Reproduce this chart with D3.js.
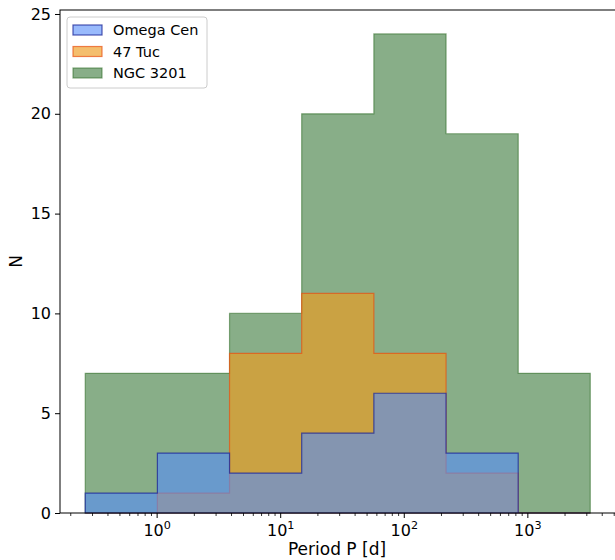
<!DOCTYPE html>
<html>
<head>
<meta charset="utf-8">
<script src="https://cdn.jsdelivr.net/npm/d3@7"></script>
<style>
  html, body { margin: 0; padding: 0; background: #fff; }
  svg { display: block; font-family: "DejaVu Sans", sans-serif; }
</style>
</head>
<body>
<svg id="chart" width="615" height="560"></svg>
<script>
// ---- data ----
const binEdges = [0.262, 1.005, 3.855, 14.79, 56.75, 217.8, 835.6, 3199];
const seriesNames = ["Omega Cen", "47 Tuc", "NGC 3201"];
const omegaCen = [1, 3, 2, 4, 6, 3, 0];
const tuc47 = [0, 1, 8, 11, 8, 2, 0];
const ngc3201 = [7, 7, 10, 20, 24, 19, 7];
const yTicks = [0, 5, 10, 15, 20, 25];
const xMajorTicks = [1, 10, 100, 1000];
const xLabel = "Period P [d]";
const yLabel = "N";

// ---- layout ----
const svg = d3.select("#chart");
const pLeft = 60, pRight = 615.5, pTop = 10, pBottom = 513;

const lmin = Math.log10(binEdges[0]), lmax = Math.log10(binEdges[binEdges.length - 1]);
const marg = (lmax - lmin) * 0.05;
const x = d3.scaleLog().domain([Math.pow(10, lmin - marg), Math.pow(10, lmax + marg)]).range([pLeft, pRight]);
const yMax = d3.max([...omegaCen, ...tuc47, ...ngc3201]) * 1.05;
const y = d3.scaleLinear().domain([0, yMax]).range([pBottom, pTop]);

const styles = {
  "Omega Cen": { fill: "rgb(85,140,250)", fillOp: 0.6, stroke: "#1f2a9a", strokeOp: 0.78 },
  "47 Tuc":    { fill: "rgb(238,155,30)", fillOp: 0.65, stroke: "#e85010", strokeOp: 0.7 },
  "NGC 3201":  { fill: "rgb(17,93,17)", fillOp: 0.5, stroke: "#2a6a20", strokeOp: 0.55 }
};
const dataByName = { "Omega Cen": omegaCen, "47 Tuc": tuc47, "NGC 3201": ngc3201 };

function stepPoints(vals) {
  const pts = [[binEdges[0], 0]];
  vals.forEach((v, i) => { pts.push([binEdges[i], v]); pts.push([binEdges[i + 1], v]); });
  pts.push([binEdges[binEdges.length - 1], 0]);
  return pts;
}
const line = d3.line().x(d => x(d[0])).y(d => y(d[1]));

const plot = svg.append("g");
// draw order: NGC 3201, 47 Tuc, Omega Cen
["NGC 3201", "47 Tuc", "Omega Cen"].forEach(name => {
  const s = styles[name];
  plot.append("path")
    .attr("d", line(stepPoints(dataByName[name])) + "Z")
    .attr("fill", s.fill).attr("fill-opacity", s.fillOp)
    .attr("stroke", s.stroke).attr("stroke-opacity", s.strokeOp)
    .attr("stroke-width", 1.2).attr("stroke-linejoin", "miter");
});

// ---- axes ----
const tickFont = 16;
const labelFont = 17;
const legendFont = 14.5;
const yAxis = d3.axisLeft(y).tickValues(yTicks).tickSize(5).tickPadding(4).tickFormat(d3.format("d"));
const gy = svg.append("g").attr("transform", `translate(${pLeft},0)`).call(yAxis);
gy.select(".domain").remove();
gy.selectAll("text").attr("font-size", tickFont).attr("font-family", "DejaVu Sans").attr("fill", "#000");
gy.selectAll("line").attr("stroke", "#000").attr("stroke-width", 1);

// x minor ticks
const minor = [];
for (let e = -1; e <= 3; e++) for (let m = 2; m <= 9; m++) {
  const v = m * Math.pow(10, e);
  if (v >= x.domain()[0] && v <= x.domain()[1]) minor.push(v);
}
const gx = svg.append("g").attr("transform", `translate(0,${pBottom})`);
gx.selectAll("line.minor").data(minor).enter().append("line")
  .attr("x1", d => x(d)).attr("x2", d => x(d)).attr("y1", 0).attr("y2", 3)
  .attr("stroke", "#000").attr("stroke-width", 0.8);
gx.selectAll("line.major").data(xMajorTicks).enter().append("line")
  .attr("x1", d => x(d)).attr("x2", d => x(d)).attr("y1", 0).attr("y2", 5)
  .attr("stroke", "#000").attr("stroke-width", 1);
const xt = gx.selectAll("text.tl").data(xMajorTicks).enter().append("text")
  .attr("x", d => x(d)).attr("y", 23).attr("text-anchor", "middle")
  .attr("font-size", tickFont).attr("fill", "#000");
xt.append("tspan").text("10");
xt.append("tspan").attr("dy", -7).attr("font-size", tickFont * 0.7).text(d => Math.round(Math.log10(d)));

// frame
svg.append("rect").attr("x", pLeft).attr("y", pTop).attr("width", pRight - pLeft).attr("height", pBottom - pTop)
  .attr("fill", "none").attr("stroke", "#000").attr("stroke-width", 1);

// labels
svg.append("text").attr("x", 337).attr("y", 555).attr("text-anchor", "middle")
  .attr("font-size", labelFont).attr("fill", "#000").text(xLabel);
svg.append("text").attr("transform", `translate(22,${(pTop + pBottom) / 2}) rotate(-90)`)
  .attr("text-anchor", "middle").attr("font-size", labelFont).attr("fill", "#000").text(yLabel);

// legend
const lg = svg.append("g").attr("transform", "translate(67,17)");
lg.append("rect").attr("x", 0).attr("y", 0).attr("width", 140).attr("height", 71).attr("rx", 3)
  .attr("fill", "#fff").attr("fill-opacity", 0.8).attr("stroke", "#cccccc").attr("stroke-width", 1);
seriesNames.forEach((name, i) => {
  const s = styles[name];
  const yy = 8 + i * 21.5;
  lg.append("rect").attr("x", 6).attr("y", yy).attr("width", 29).attr("height", 10)
    .attr("fill", s.fill).attr("fill-opacity", s.fillOp)
    .attr("stroke", s.stroke).attr("stroke-opacity", s.strokeOp).attr("stroke-width", 1.2);
  lg.append("text").attr("x", 46).attr("y", yy + 10).attr("font-size", legendFont).attr("fill", "#000").text(name);
});
</script>
</body>
</html>
